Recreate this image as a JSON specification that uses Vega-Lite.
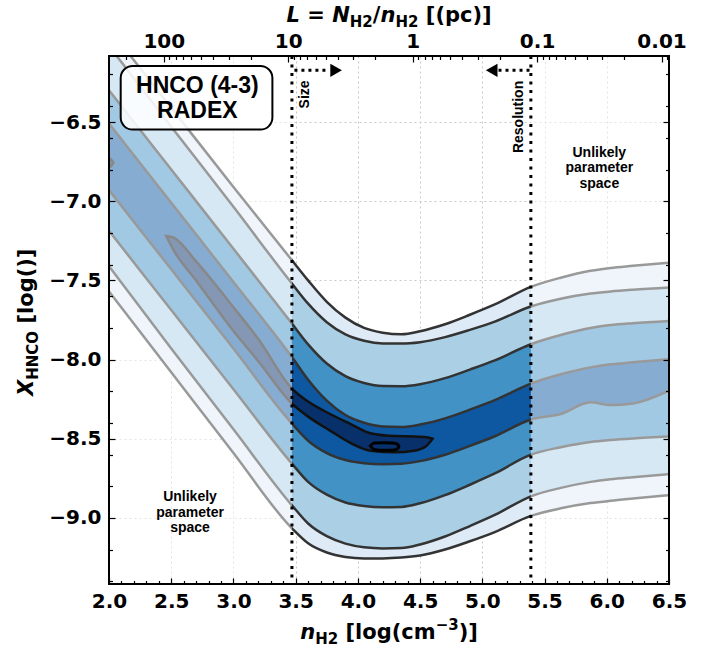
{
  "$schema": "https://vega.github.io/schema/vega-lite/v6.json",
  "width": 560,
  "height": 528,
  "autosize": {"type": "none"},
  "padding": {"left": 109, "top": 56, "right": 50, "bottom": 68},
  "background": "white",
  "config": {
    "view": {"stroke": null},
    "axis": {"domain": false, "grid": false, "labelFont": "DejaVu Sans", "labelFontWeight": "bold", "labelFontSize": 20, "labelColor": "black", "tickColor": "black", "tickWidth": 1.2, "labelFlush": false, "labelOverlap": false, "title": null}
  },
  "data": {"values": [{}]},
  "datasets": {
    "bands": [
      {"lev": "L1", "x": 2.0, "lo": -7.57, "hi": -5.91}, {"lev": "L2", "x": 2.0, "lo": -7.41, "hi": -6.02}, {"lev": "L3", "x": 2.0, "lo": -7.187, "hi": -6.30}, {"lev": "L4", "x": 2.0, "lo": -6.93, "hi": -6.51},
      {"lev": "L1", "x": 2.5, "lo": -8.08, "hi": -6.41}, {"lev": "L2", "x": 2.5, "lo": -7.93, "hi": -6.53}, {"lev": "L3", "x": 2.5, "lo": -7.687, "hi": -6.80}, {"lev": "L4", "x": 2.5, "lo": -7.43, "hi": -7.01},
      {"lev": "L1", "x": 3.0, "lo": -8.59, "hi": -6.91}, {"lev": "L2", "x": 3.0, "lo": -8.44, "hi": -7.035}, {"lev": "L3", "x": 3.0, "lo": -8.187, "hi": -7.30}, {"lev": "L4", "x": 3.0, "lo": -7.93, "hi": -7.51},
      {"lev": "L1", "x": 3.47, "lo": -9.065, "hi": -7.373}, {"lev": "L2", "x": 3.47, "lo": -8.92, "hi": -7.52}, {"lev": "L3", "x": 3.47, "lo": -8.657, "hi": -7.773}, {"lev": "L4", "x": 3.47, "lo": -8.404, "hi": -7.984},
      {"lev": "L1", "x": 3.6, "lo": -9.16, "hi": -7.50}, {"lev": "L2", "x": 3.6, "lo": -9.035, "hi": -7.647}, {"lev": "L3", "x": 3.6, "lo": -8.772, "hi": -7.904}, {"lev": "L4", "x": 3.6, "lo": -8.512, "hi": -8.127},
      {"lev": "L1", "x": 3.75, "lo": -9.218, "hi": -7.635}, {"lev": "L2", "x": 3.75, "lo": -9.115, "hi": -7.764}, {"lev": "L3", "x": 3.75, "lo": -8.853, "hi": -8.025}, {"lev": "L4", "x": 3.75, "lo": -8.59, "hi": -8.259},
      {"lev": "L1", "x": 3.9, "lo": -9.246, "hi": -7.735}, {"lev": "L2", "x": 3.9, "lo": -9.162, "hi": -7.841}, {"lev": "L3", "x": 3.9, "lo": -8.902, "hi": -8.105}, {"lev": "L4", "x": 3.9, "lo": -8.634, "hi": -8.35},
      {"lev": "L1", "x": 4.05, "lo": -9.255, "hi": -7.80}, {"lev": "L2", "x": 4.05, "lo": -9.185, "hi": -7.881}, {"lev": "L3", "x": 4.05, "lo": -8.924, "hi": -8.148}, {"lev": "L4", "x": 4.05, "lo": -8.654, "hi": -8.399},
      {"lev": "L1", "x": 4.2, "lo": -9.255, "hi": -7.83}, {"lev": "L2", "x": 4.2, "lo": -9.192, "hi": -7.898}, {"lev": "L3", "x": 4.2, "lo": -8.932, "hi": -8.167}, {"lev": "L4", "x": 4.2, "lo": -8.66, "hi": -8.422},
      {"lev": "L1", "x": 4.35, "lo": -9.25, "hi": -7.84}, {"lev": "L2", "x": 4.35, "lo": -9.19, "hi": -7.899}, {"lev": "L3", "x": 4.35, "lo": -8.93, "hi": -8.168}, {"lev": "L4", "x": 4.35, "lo": -8.657, "hi": -8.425},
      {"lev": "L1", "x": 4.5, "lo": -9.237, "hi": -7.821}, {"lev": "L2", "x": 4.5, "lo": -9.167, "hi": -7.89}, {"lev": "L3", "x": 4.5, "lo": -8.907, "hi": -8.155}, {"lev": "L4", "x": 4.5, "lo": -8.641, "hi": -8.41},
      {"lev": "L1", "x": 4.7, "lo": -9.199, "hi": -7.777}, {"lev": "L2", "x": 4.7, "lo": -9.117, "hi": -7.858}, {"lev": "L3", "x": 4.7, "lo": -8.856, "hi": -8.117}, {"lev": "L4", "x": 4.7, "lo": -8.601, "hi": -8.371},
      {"lev": "L1", "x": 4.9, "lo": -9.147, "hi": -7.717}, {"lev": "L2", "x": 4.9, "lo": -9.051, "hi": -7.812}, {"lev": "L3", "x": 4.9, "lo": -8.79, "hi": -8.063}, {"lev": "L4", "x": 4.9, "lo": -8.545, "hi": -8.316},
      {"lev": "L1", "x": 5.1, "lo": -9.089, "hi": -7.652}, {"lev": "L2", "x": 5.1, "lo": -8.981, "hi": -7.76}, {"lev": "L3", "x": 5.1, "lo": -8.719, "hi": -8.005}, {"lev": "L4", "x": 5.1, "lo": -8.484, "hi": -8.256},
      {"lev": "L1", "x": 5.39, "lo": -8.987, "hi": -7.541}, {"lev": "L2", "x": 5.39, "lo": -8.863, "hi": -7.665}, {"lev": "L3", "x": 5.39, "lo": -8.60, "hi": -7.903}, {"lev": "L4", "x": 5.39, "lo": -8.378, "hi": -8.152},
      {"lev": "L1", "x": 5.63, "lo": -8.939, "hi": -7.483}, {"lev": "L2", "x": 5.63, "lo": -8.81, "hi": -7.616}, {"lev": "L3", "x": 5.63, "lo": -8.553, "hi": -7.845}, {"lev": "L4", "x": 5.63, "lo": -8.343, "hi": -8.093},
      {"lev": "L1", "x": 5.87, "lo": -8.906, "hi": -7.439}, {"lev": "L2", "x": 5.87, "lo": -8.772, "hi": -7.583}, {"lev": "L3", "x": 5.87, "lo": -8.52, "hi": -7.801}, {"lev": "L4", "x": 5.87, "lo": -8.27, "hi": -8.049},
      {"lev": "L1", "x": 6.03, "lo": -8.891, "hi": -7.421}, {"lev": "L2", "x": 6.03, "lo": -8.755, "hi": -7.57}, {"lev": "L3", "x": 6.03, "lo": -8.508, "hi": -7.782}, {"lev": "L4", "x": 6.03, "lo": -8.287, "hi": -8.03},
      {"lev": "L1", "x": 6.21, "lo": -8.877, "hi": -7.408}, {"lev": "L2", "x": 6.21, "lo": -8.742, "hi": -7.559}, {"lev": "L3", "x": 6.21, "lo": -8.498, "hi": -7.77}, {"lev": "L4", "x": 6.21, "lo": -8.277, "hi": -8.017},
      {"lev": "L1", "x": 6.5, "lo": -8.856, "hi": -7.388}, {"lev": "L2", "x": 6.5, "lo": -8.723, "hi": -7.545}, {"lev": "L3", "x": 6.5, "lo": -8.486, "hi": -7.756}, {"lev": "L4", "x": 6.5, "lo": -8.196, "hi": -7.997}
    ],
    "peak": [
      {"part": "a", "x": 2.46, "lo": -7.22, "hi": -7.22},
      {"part": "a", "x": 2.52, "lo": -7.31, "hi": -7.23},
      {"part": "a", "x": 2.7, "lo": -7.50, "hi": -7.38},
      {"part": "a", "x": 3.0, "lo": -7.82, "hi": -7.67},
      {"part": "a", "x": 3.2, "lo": -8.01, "hi": -7.87},
      {"part": "a", "x": 3.47, "lo": -8.278, "hi": -8.183},
      {"part": "a", "x": 3.6, "lo": -8.36, "hi": -8.265},
      {"part": "a", "x": 3.78, "lo": -8.45, "hi": -8.345},
      {"part": "a", "x": 3.95, "lo": -8.53, "hi": -8.41},
      {"part": "a", "x": 4.1, "lo": -8.575, "hi": -8.465},
      {"part": "a", "x": 4.3, "lo": -8.585, "hi": -8.483},
      {"part": "a", "x": 4.45, "lo": -8.575, "hi": -8.485},
      {"part": "a", "x": 4.55, "lo": -8.545, "hi": -8.49},
      {"part": "a", "x": 4.6, "lo": -8.50, "hi": -8.50},
      {"part": "b", "x": 2.0, "lo": -6.785, "hi": -6.73},
      {"part": "b", "x": 2.02, "lo": -6.775, "hi": -6.74},
      {"part": "b", "x": 2.035, "lo": -6.757, "hi": -6.757}
    ],
    "core": [
      {"x": 4.10, "lo": -8.545, "hi": -8.545},
      {"x": 4.13, "lo": -8.567, "hi": -8.527},
      {"x": 4.2, "lo": -8.573, "hi": -8.525},
      {"x": 4.28, "lo": -8.572, "hi": -8.527},
      {"x": 4.32, "lo": -8.562, "hi": -8.535},
      {"x": 4.33, "lo": -8.548, "hi": -8.548}
    ]
  },
  "resolve": {"axis": {"x": "independent", "y": "independent"}},
  "layer": [
    {
      "data": {"name": "bands"},
      "transform": [{"filter": "datum.lev === 'L1'"}],
      "mark": {"type": "area", "interpolate": "monotone", "clip": true, "color": "#deebf7", "opacity": 1},
      "encoding": {
        "x": {"field": "x", "type": "quantitative", "scale": {"domain": [2, 6.5], "nice": false, "zero": false},
              "axis": {"orient": "bottom", "values": [2.5, 3, 3.5, 4, 4.5, 5, 5.5, 6], "grid": true, "gridColor": "#c8c8c8", "gridDash": [2, 3], "gridWidth": 1, "ticks": false, "labels": false, "domain": false, "title": null, "zindex": 0}},
        "y": {"field": "lo", "type": "quantitative", "scale": {"domain": [-9.4167, -6.0833], "nice": false, "zero": false},
              "axis": {"orient": "left", "values": [-9, -8.5, -8, -7.5, -7, -6.5], "grid": true, "gridColor": "#c8c8c8", "gridDash": [2, 3], "gridWidth": 1, "ticks": false, "labels": false, "domain": false, "title": null, "zindex": 0}},
        "y2": {"field": "hi"}
      }
    },
    {
      "data": {"name": "bands"},
      "transform": [{"filter": "datum.lev === 'L2'"}],
      "mark": {"type": "area", "interpolate": "monotone", "clip": true, "color": "#abd0e6", "opacity": 1},
      "encoding": {
        "x": {"field": "x", "type": "quantitative",
              "axis": {"orient": "bottom", "values": [2, 2.5, 3, 3.5, 4, 4.5, 5, 5.5, 6, 6.5], "format": ".1f", "ticks": false, "labelPadding": 7, "title": null, "zindex": 1}},
        "y": {"field": "lo", "type": "quantitative",
              "axis": {"orient": "left", "values": [-9, -8.5, -8, -7.5, -7, -6.5], "format": ".1f", "ticks": false, "labelPadding": 8, "title": null, "zindex": 1}},
        "y2": {"field": "hi"}
      }
    },
    {
      "data": {"name": "bands"},
      "transform": [{"filter": "datum.lev === 'L3'"}],
      "mark": {"type": "area", "interpolate": "monotone", "clip": true, "color": "#4292c6", "opacity": 1},
      "encoding": {
        "x": {"field": "x", "type": "quantitative",
              "axis": {"orient": "bottom", "values": [2.0, 2.1, 2.2, 2.3, 2.4, 2.5, 2.6, 2.7, 2.8, 2.9, 3.0, 3.1, 3.2, 3.3, 3.4, 3.5, 3.6, 3.7, 3.8, 3.9, 4.0, 4.1, 4.2, 4.3, 4.4, 4.5, 4.6, 4.7, 4.8, 4.9, 5.0, 5.1, 5.2, 5.3, 5.4, 5.5, 5.6, 5.7, 5.8, 5.9, 6.0, 6.1, 6.2, 6.3, 6.4, 6.5],
                       "labels": false, "ticks": true, "tickSize": {"condition": {"test": "abs(datum.value*2 - round(datum.value*2)) < 0.001", "value": -6}, "value": -3.5}, "title": null, "zindex": 1}},
        "y": {"field": "lo", "type": "quantitative",
              "axis": {"orient": "left", "values": [-9.4, -9.2, -9.0, -8.8, -8.6, -8.5, -8.4, -8.2, -8.0, -7.8, -7.6, -7.5, -7.4, -7.2, -7.0, -6.8, -6.6, -6.5, -6.4, -6.2],
                       "labels": false, "ticks": true, "tickSize": {"condition": {"test": "abs(datum.value*2 - round(datum.value*2)) < 0.001", "value": -6}, "value": -3.5}, "title": null, "zindex": 1}},
        "y2": {"field": "hi"}
      }
    },
    {
      "data": {"name": "bands"},
      "transform": [{"filter": "datum.lev === 'L4'"}],
      "mark": {"type": "area", "interpolate": "monotone", "clip": true, "color": "#0e58a2", "opacity": 1},
      "encoding": {
        "x": {"field": "x", "type": "quantitative",
              "axis": {"orient": "top", "values": [2.44, 3.44, 4.44, 5.44, 6.44], "labelExpr": "datum.value < 3 ? '100' : datum.value < 4 ? '10' : datum.value < 5 ? '1' : datum.value < 6 ? '0.1' : '0.01'", "ticks": false, "labelPadding": 5, "title": null, "zindex": 1}},
        "y": {"field": "lo", "type": "quantitative",
              "axis": {"orient": "right", "values": [-9.4, -9.2, -9.0, -8.8, -8.6, -8.5, -8.4, -8.2, -8.0, -7.8, -7.6, -7.5, -7.4, -7.2, -7.0, -6.8, -6.6, -6.5, -6.4, -6.2],
                       "labels": false, "ticks": true, "tickSize": {"condition": {"test": "abs(datum.value*2 - round(datum.value*2)) < 0.001", "value": -6}, "value": -3.5}, "title": null, "zindex": 1}},
        "y2": {"field": "hi"}
      }
    },
    {
      "data": {"name": "bands"},
      "transform": [{"fold": ["lo", "hi"], "as": ["side", "val"]}],
      "mark": {"type": "line", "interpolate": "monotone", "clip": true, "color": "#333333", "strokeWidth": 2.5},
      "encoding": {
        "x": {"field": "x", "type": "quantitative", "axis": null},
        "y": {"field": "val", "type": "quantitative", "axis": null},
        "detail": [{"field": "lev"}, {"field": "side"}]
      }
    },
    {
      "data": {"name": "peak"},
      "mark": {"type": "area", "interpolate": "monotone", "clip": true, "fill": "#08306b", "stroke": "#111111", "strokeWidth": 2.5, "opacity": 1},
      "encoding": {
        "x": {"field": "x", "type": "quantitative",
              "axis": {"orient": "top", "values": [2.139, 2.486, 2.537, 2.595, 2.662, 2.741, 2.838, 2.963, 3.139, 3.486, 3.537, 3.595, 3.662, 3.741, 3.838, 3.963, 4.139, 4.486, 4.537, 4.595, 4.662, 4.741, 4.838, 4.963, 5.139, 5.486, 5.537, 5.595, 5.662, 5.741, 5.838, 5.963, 6.139, 6.486, 2.44, 3.44, 4.44, 5.44, 6.44],
                       "labels": false, "ticks": true, "tickSize": {"condition": {"test": "abs(datum.value - 0.44 - round(datum.value - 0.44)) < 0.001", "value": -6}, "value": -3.5}, "title": null, "zindex": 1}},
        "y": {"field": "lo", "type": "quantitative", "axis": null},
        "y2": {"field": "hi"},
        "detail": {"field": "part"}
      }
    },
    {
      "data": {"name": "core"},
      "mark": {"type": "area", "interpolate": "monotone", "clip": true, "fill": "#08306b", "stroke": "black", "strokeWidth": 3, "opacity": 1},
      "encoding": {
        "x": {"field": "x", "type": "quantitative", "axis": null},
        "y": {"field": "lo", "type": "quantitative", "axis": null},
        "y2": {"field": "hi"}
      }
    },
    {
      "mark": {"type": "rect", "fill": "white", "opacity": 0.5},
      "encoding": {"x": {"datum": 2.0, "axis": null}, "x2": {"datum": 3.47}, "y": {"datum": -9.4167, "axis": null}, "y2": {"datum": -6.0833}}
    },
    {
      "mark": {"type": "rect", "fill": "white", "opacity": 0.5},
      "encoding": {"x": {"datum": 5.39, "axis": null}, "x2": {"datum": 6.5}, "y": {"datum": -9.4167, "axis": null}, "y2": {"datum": -6.0833}}
    },
    {
      "mark": {"type": "rule", "color": "black", "strokeWidth": 3, "strokeDash": [3, 5.5]},
      "encoding": {"x": {"datum": 3.47, "axis": null}}
    },
    {
      "mark": {"type": "rule", "color": "black", "strokeWidth": 3, "strokeDash": [3, 5.5]},
      "encoding": {"x": {"datum": 5.39, "axis": null}}
    },
    {
      "mark": {"type": "rule", "color": "black", "strokeWidth": 3, "strokeDash": [3, 4]},
      "encoding": {"x": {"datum": 3.49, "axis": null}, "x2": {"datum": 3.77}, "y": {"datum": -6.174, "axis": null}}
    },
    {
      "mark": {"type": "point", "shape": "triangle-right", "filled": true, "size": 180, "color": "black", "opacity": 1},
      "encoding": {"x": {"datum": 3.825, "axis": null}, "y": {"datum": -6.174, "axis": null}}
    },
    {
      "mark": {"type": "rule", "color": "black", "strokeWidth": 3, "strokeDash": [3, 4]},
      "encoding": {"x": {"datum": 5.13, "axis": null}, "x2": {"datum": 5.385}, "y": {"datum": -6.174, "axis": null}}
    },
    {
      "mark": {"type": "point", "shape": "triangle-left", "filled": true, "size": 180, "color": "black", "opacity": 1},
      "encoding": {"x": {"datum": 5.075, "axis": null}, "y": {"datum": -6.174, "axis": null}}
    },
    {
      "mark": {"type": "text", "text": "Size", "angle": 270, "align": "center", "baseline": "alphabetic", "font": "Liberation Sans", "fontWeight": "bold", "fontSize": 14, "color": "black"},
      "encoding": {"x": {"datum": 3.61, "axis": null}, "y": {"datum": -6.326, "axis": null}}
    },
    {
      "mark": {"type": "text", "text": "Resolution", "angle": 270, "align": "center", "baseline": "alphabetic", "font": "Liberation Sans", "fontWeight": "bold", "fontSize": 14, "color": "black"},
      "encoding": {"x": {"datum": 5.33, "axis": null}, "y": {"datum": -6.468, "axis": null}}
    },
    {
      "mark": {"type": "text", "text": ["Unlikely", "parameter", "space"], "align": "center", "baseline": "middle", "lineHeight": 15.5, "font": "Liberation Sans", "fontWeight": "bold", "fontSize": 14, "color": "black"},
      "encoding": {"x": {"datum": 5.94, "axis": null}, "y": {"datum": -6.694, "axis": null}}
    },
    {
      "mark": {"type": "text", "text": ["Unlikely", "parameter", "space"], "align": "center", "baseline": "middle", "lineHeight": 15.5, "font": "Liberation Sans", "fontWeight": "bold", "fontSize": 14, "color": "black"},
      "encoding": {"x": {"datum": 2.651, "axis": null}, "y": {"datum": -8.869, "axis": null}}
    },
    {
      "mark": {"type": "rect", "fill": "white", "fillOpacity": 0.85, "stroke": "black", "strokeWidth": 2, "cornerRadius": 12},
      "encoding": {"x": {"datum": 2.094, "axis": null}, "x2": {"datum": 3.313}, "y": {"datum": -6.548, "axis": null}, "y2": {"datum": -6.146}}
    },
    {
      "mark": {"type": "text", "text": "HNCO (4-3)", "align": "center", "baseline": "alphabetic", "font": "Liberation Sans", "fontWeight": "bold", "fontSize": 23, "color": "black"},
      "encoding": {"x": {"datum": 2.71, "axis": null}, "y": {"datum": -6.317, "axis": null}}
    },
    {
      "mark": {"type": "text", "text": "RADEX", "align": "center", "baseline": "alphabetic", "font": "Liberation Sans", "fontWeight": "bold", "fontSize": 23, "color": "black"},
      "encoding": {"x": {"datum": 2.71, "axis": null}, "y": {"datum": -6.472, "axis": null}}
    },
    {
      "mark": {"type": "rect", "fill": "white", "fillOpacity": 0, "stroke": "black", "strokeWidth": 2},
      "encoding": {"x": {"datum": 2.0, "axis": null}, "x2": {"datum": 6.5}, "y": {"datum": -9.4167, "axis": null}, "y2": {"datum": -6.0833}}
    },
    {
      "mark": {"type": "text", "text": "L", "align": "left", "baseline": "alphabetic", "dx": -102.5, "dy": -34, "font": "DejaVu Sans", "fontWeight": "bold", "fontStyle": "italic", "fontSize": 21, "color": "black"},
      "encoding": {"x": {"datum": 4.2508, "axis": null}, "y": {"datum": -6.0833, "axis": null}}
    },
    {
      "mark": {"type": "text", "text": "=", "align": "left", "baseline": "alphabetic", "dx": -81.8, "dy": -34, "font": "DejaVu Sans", "fontWeight": "bold", "fontSize": 21, "color": "black"},
      "encoding": {"x": {"datum": 4.2508, "axis": null}, "y": {"datum": -6.0833, "axis": null}}
    },
    {
      "mark": {"type": "text", "text": "N", "align": "left", "baseline": "alphabetic", "dx": -56.9, "dy": -34, "font": "DejaVu Sans", "fontWeight": "bold", "fontStyle": "italic", "fontSize": 21, "color": "black"},
      "encoding": {"x": {"datum": 4.2508, "axis": null}, "y": {"datum": -6.0833, "axis": null}}
    },
    {
      "mark": {"type": "text", "text": "H2", "align": "left", "baseline": "alphabetic", "dx": -39.3, "dy": -29, "font": "DejaVu Sans", "fontWeight": "bold", "fontSize": 15, "color": "black"},
      "encoding": {"x": {"datum": 4.2508, "axis": null}, "y": {"datum": -6.0833, "axis": null}}
    },
    {
      "mark": {"type": "text", "text": "/", "align": "left", "baseline": "alphabetic", "dx": -16.3, "dy": -34, "font": "DejaVu Sans", "fontWeight": "bold", "fontSize": 21, "color": "black"},
      "encoding": {"x": {"datum": 4.2508, "axis": null}, "y": {"datum": -6.0833, "axis": null}}
    },
    {
      "mark": {"type": "text", "text": "n", "align": "left", "baseline": "alphabetic", "dx": -8.6, "dy": -34, "font": "DejaVu Sans", "fontWeight": "bold", "fontStyle": "italic", "fontSize": 21, "color": "black"},
      "encoding": {"x": {"datum": 4.2508, "axis": null}, "y": {"datum": -6.0833, "axis": null}}
    },
    {
      "mark": {"type": "text", "text": "H2", "align": "left", "baseline": "alphabetic", "dx": 6.4, "dy": -29, "font": "DejaVu Sans", "fontWeight": "bold", "fontSize": 15, "color": "black"},
      "encoding": {"x": {"datum": 4.2508, "axis": null}, "y": {"datum": -6.0833, "axis": null}}
    },
    {
      "mark": {"type": "text", "text": "[(pc)]", "align": "left", "baseline": "alphabetic", "dx": 36.7, "dy": -34, "font": "DejaVu Sans", "fontWeight": "bold", "fontSize": 21, "color": "black"},
      "encoding": {"x": {"datum": 4.2508, "axis": null}, "y": {"datum": -6.0833, "axis": null}}
    },
    {
      "mark": {"type": "text", "text": "n", "align": "left", "baseline": "alphabetic", "dx": -88.9, "dy": 55, "font": "DejaVu Sans", "fontWeight": "bold", "fontStyle": "italic", "fontSize": 21, "color": "black"},
      "encoding": {"x": {"datum": 4.2508, "axis": null}, "y": {"datum": -9.4167, "axis": null}}
    },
    {
      "mark": {"type": "text", "text": "H2", "align": "left", "baseline": "alphabetic", "dx": -73.9, "dy": 60, "font": "DejaVu Sans", "fontWeight": "bold", "fontSize": 15, "color": "black"},
      "encoding": {"x": {"datum": 4.2508, "axis": null}, "y": {"datum": -9.4167, "axis": null}}
    },
    {
      "mark": {"type": "text", "text": "[log(cm", "align": "left", "baseline": "alphabetic", "dx": -43.6, "dy": 55, "font": "DejaVu Sans", "fontWeight": "bold", "fontSize": 21, "color": "black"},
      "encoding": {"x": {"datum": 4.2508, "axis": null}, "y": {"datum": -9.4167, "axis": null}}
    },
    {
      "mark": {"type": "text", "text": "−3", "align": "left", "baseline": "alphabetic", "dx": 46.6, "dy": 46, "font": "DejaVu Sans", "fontWeight": "bold", "fontSize": 15, "color": "black"},
      "encoding": {"x": {"datum": 4.2508, "axis": null}, "y": {"datum": -9.4167, "axis": null}}
    },
    {
      "mark": {"type": "text", "text": ")]", "align": "left", "baseline": "alphabetic", "dx": 69.6, "dy": 55, "font": "DejaVu Sans", "fontWeight": "bold", "fontSize": 21, "color": "black"},
      "encoding": {"x": {"datum": 4.2508, "axis": null}, "y": {"datum": -9.4167, "axis": null}}
    },
    {
      "mark": {"type": "text", "text": "X", "angle": 270, "align": "left", "baseline": "alphabetic", "dx": -73.8, "dy": -76, "font": "DejaVu Sans", "fontWeight": "bold", "fontStyle": "italic", "fontSize": 21, "color": "black"},
      "encoding": {"x": {"datum": 2.0, "axis": null}, "y": {"datum": -7.7645, "axis": null}}
    },
    {
      "mark": {"type": "text", "text": "HNCO", "angle": 270, "align": "left", "baseline": "alphabetic", "dx": -57.5, "dy": -71, "font": "DejaVu Sans", "fontWeight": "bold", "fontSize": 15, "color": "black"},
      "encoding": {"x": {"datum": 2.0, "axis": null}, "y": {"datum": -7.7645, "axis": null}}
    },
    {
      "mark": {"type": "text", "text": "[log()]", "angle": 270, "align": "left", "baseline": "alphabetic", "dx": -1.3, "dy": -76, "font": "DejaVu Sans", "fontWeight": "bold", "fontSize": 21, "color": "black"},
      "encoding": {"x": {"datum": 2.0, "axis": null}, "y": {"datum": -7.7645, "axis": null}}
    }
  ]
}
